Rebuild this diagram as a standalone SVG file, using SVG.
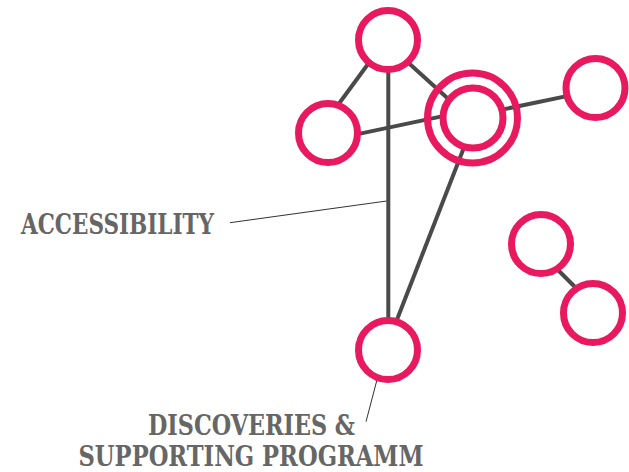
<svg xmlns="http://www.w3.org/2000/svg" width="629" height="472" viewBox="0 0 629 472">
<style>
.edge{stroke:#4a4a4a;stroke-width:4;fill:none;stroke-linecap:butt}
.lead{stroke:#333;stroke-width:1;fill:none}
.node{fill:#fff;stroke:#E8195E;stroke-width:7}
.ring{fill:none;stroke:#E8195E;stroke-width:7}
.lbl{font-family:"DejaVu Serif","Liberation Serif",serif;font-stretch:condensed;font-weight:bold;font-size:28px;fill:#666}
</style>
<rect width="629" height="472" fill="#fff"/>
<g id="connectors">
<line class="edge" x1="371" y1="60" x2="335" y2="109"/>
<line class="edge" x1="402" y1="57" x2="455" y2="105"/>
<line class="edge" x1="340" y1="137.9" x2="450" y2="114.6"/>
<line class="edge" x1="495" y1="111.1" x2="580" y2="93.4"/>
<line class="edge" x1="466.9" y1="140" x2="394.9" y2="325"/>
<line class="edge" x1="388.3" y1="45" x2="388.3" y2="345"/>
<line class="edge" x1="552" y1="264" x2="582" y2="294"/>
<line class="lead" x1="230" y1="222.7" x2="386.7" y2="201"/>
<line class="lead" x1="366" y1="421.7" x2="385" y2="349.3"/>
</g>
<g id="n-top"><circle class="node" cx="388" cy="40" r="29.5"/></g>
<g id="n-left"><circle class="node" cx="328" cy="133" r="29.5"/></g>
<g id="n-right"><circle class="node" cx="595.5" cy="88" r="29.5"/></g>
<g id="n-hub"><circle class="ring" cx="472.5" cy="118" r="45"/><circle class="node" cx="473" cy="118" r="30"/></g>
<g id="n-bottom"><circle class="node" cx="388" cy="350" r="29.5"/></g>
<g id="n-pair1"><circle class="node" cx="541" cy="244" r="29.5"/></g>
<g id="n-pair2"><circle class="node" cx="593" cy="313" r="29.5"/></g>
<g id="labels">
<text class="lbl" x="21" y="234" textLength="193" lengthAdjust="spacingAndGlyphs">ACCESSIBILITY</text>
<text class="lbl" x="251.5" y="435" text-anchor="middle" textLength="207" lengthAdjust="spacingAndGlyphs">DISCOVERIES &amp;</text>
<text class="lbl" x="251" y="466" text-anchor="middle" textLength="345" lengthAdjust="spacingAndGlyphs">SUPPORTING PROGRAMM</text>
</g>
</svg>
